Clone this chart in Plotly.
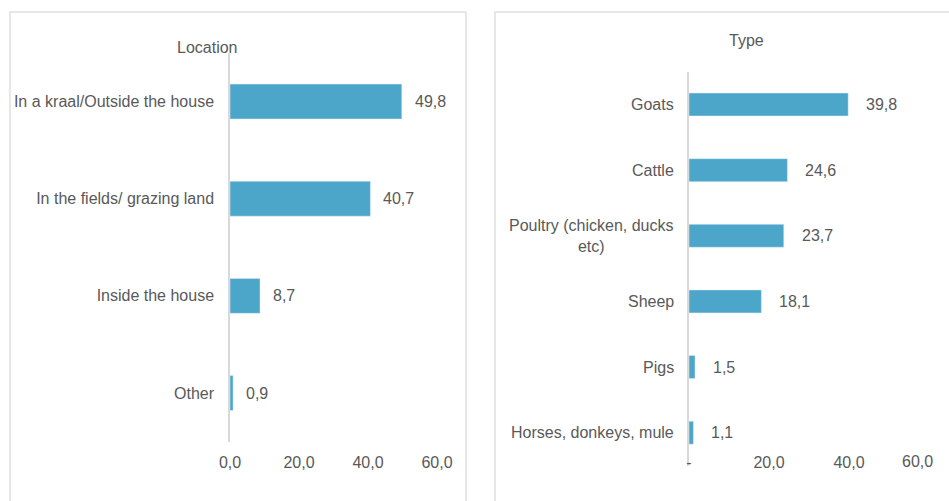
import plotly.graph_objects as go

# ---- data ----
loc_categories = ["In a kraal/Outside the house", "In the fields/ grazing land", "Inside the house", "Other"]
loc_values = [49.8, 40.7, 8.7, 0.9]

type_categories = ["Goats", "Cattle", "Poultry (chicken, ducks<br>etc)", "Sheep", "Pigs", "Horses, donkeys, mule"]
type_values = [39.8, 24.6, 23.7, 18.1, 1.5, 1.1]

left_tickvals = [0, 20, 40, 60]
right_tickvals = [0, 20, 40, 60]
right_ticktext = ["-", "20,0", "40,0", "60,0"]

BAR = "#4ba6ca"
TXT = "#595959"
GRID = "#d9d9d9"
FONT = "Liberation Sans, Arial, sans-serif"
FS = 16
W, H = 949, 501

def px(x):
    return x / W

def py(y):
    return 1 - y / H

fig = go.Figure()
fig.add_trace(go.Bar(x=loc_values, y=loc_categories, orientation="h", marker_color=BAR,
                     width=0.36, xaxis="x", yaxis="y", hoverinfo="x+y"))
fig.add_trace(go.Bar(x=type_values, y=type_categories, orientation="h", marker_color=BAR,
                     width=0.35, xaxis="x2", yaxis="y2", hoverinfo="x+y"))

annotations = []
for c, v in zip(loc_categories, loc_values):
    annotations.append(dict(x=v, y=c, xref="x", yref="y", text=f"{v:.1f}".replace(".", ","),
                            showarrow=False, xanchor="left", xshift=11,
                            font=dict(size=FS, color=TXT, family=FONT)))
for c, v in zip(type_categories, type_values):
    annotations.append(dict(x=v, y=c, xref="x2", yref="y2", text=f"{v:.1f}".replace(".", ","),
                            showarrow=False, xanchor="left", xshift=16,
                            font=dict(size=FS, color=TXT, family=FONT)))
    annotations.append(dict(x=px(676), y=c, xref="paper", yref="y2", text=c,
                            showarrow=False, xanchor="right", align="center",
                            font=dict(size=FS, color=TXT, family=FONT)))

# last right tick label sits pulled inward (chart edge), as in the original
annotations.append(dict(x=right_tickvals[-1], y=py(461), xref="x2", yref="paper",
                        text=right_ticktext[-1], showarrow=False, xanchor="right",
                        yanchor="middle", xshift=6,
                        font=dict(size=FS, color=TXT, family=FONT)))

annotations.append(dict(x=px(207), y=py(48), xref="paper", yref="paper", text="Location",
                        showarrow=False, xanchor="center", yanchor="middle",
                        font=dict(size=FS, color=TXT, family=FONT)))
annotations.append(dict(x=px(746), y=py(40), xref="paper", yref="paper", text="Type",
                        showarrow=False, xanchor="center", yanchor="middle",
                        font=dict(size=FS, color=TXT, family=FONT)))

shapes = [
    dict(type="rect", xref="paper", yref="paper", x0=px(10), x1=px(466), y0=-0.2, y1=py(12),
         line=dict(color="#e0e0e0", width=1.5), layer="below"),
    dict(type="rect", xref="paper", yref="paper", x0=px(495), x1=1.2, y0=-0.2, y1=py(12),
         line=dict(color="#e0e0e0", width=1.5), layer="below"),
]

fig.update_layout(
    width=W, height=H,
    autosize=False,
    margin=dict(l=0, r=0, t=0, b=0, pad=0, autoexpand=False),
    paper_bgcolor="white", plot_bgcolor="white",
    showlegend=False,
    separators=",.",
    font=dict(family=FONT, size=FS, color=TXT),
    xaxis=dict(domain=[px(230), px(437)], range=[0, 60], tickvals=left_tickvals, tickformat=".1f",
               showgrid=False, zeroline=False, showline=False, anchor="free", position=py(451),
               automargin=False,
               tickfont=dict(size=FS, color=TXT, family=FONT)),
    yaxis=dict(domain=[py(441.6), py(53)], categoryorder="array", categoryarray=loc_categories,
               autorange="reversed", showgrid=False, zeroline=False, showline=True,
               linecolor=GRID, linewidth=1.5, ticks="outside", ticklen=11,
               tickcolor="rgba(0,0,0,0)", anchor="x", automargin=False,
               tickfont=dict(size=FS, color=TXT, family=FONT)),
    xaxis2=dict(domain=[px(689), px(929)], range=[0, 60], tickvals=right_tickvals[:-1],
                ticktext=right_ticktext[:-1], showgrid=False, zeroline=False, showline=False,
                anchor="free", position=py(451), automargin=False,
                tickfont=dict(size=FS, color=TXT, family=FONT)),
    yaxis2=dict(domain=[py(465.5), py(71.7)], categoryorder="array", categoryarray=type_categories,
                autorange="reversed", showgrid=False, zeroline=False, showline=True,
                linecolor=GRID, linewidth=1.5, showticklabels=False, anchor="x2",
                automargin=False),
    annotations=annotations,
    shapes=shapes,
)

fig.write_html("out.html")
